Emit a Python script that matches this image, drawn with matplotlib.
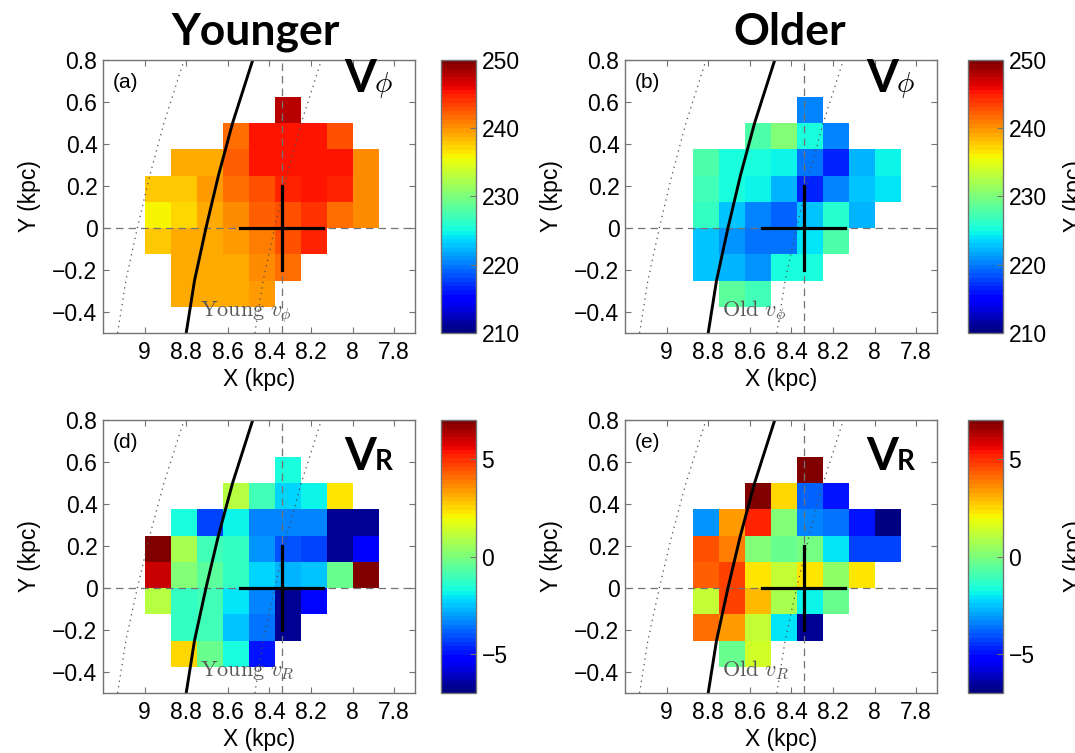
import numpy as np
import matplotlib
matplotlib.use('Agg')
import matplotlib.pyplot as plt

plt.rcParams['font.family'] = 'Liberation Sans'
plt.rcParams['mathtext.fontset'] = 'cm'
plt.rcParams['axes.unicode_minus'] = True

nan = np.nan

# bin edges in kpc (rows listed from top to bottom)
x_edges = [9.0, 8.875, 8.75, 8.625, 8.5, 8.375, 8.25, 8.125, 8.0, 7.875]
y_edges = [0.625, 0.5, 0.375, 0.25, 0.125, 0.0, -0.125, -0.25, -0.375]

# mean v_phi (km/s), young stars
vphi_young = [
    [nan, nan, nan, nan, nan, 248.0, nan, nan, nan],
    [nan, nan, nan, 241.5, 245.0, 245.5, 245.0, 242.5, nan],
    [nan, 239.3, 239.3, 242.0, 245.0, 245.5, 245.0, 245.0, 240.0],
    [237.5, 237.5, 239.8, 241.5, 243.0, 244.5, 245.0, 244.5, 240.2],
    [235.8, 237.3, 239.0, 240.2, 242.0, 243.0, 244.0, 241.5, 240.2],
    [237.5, 238.8, 239.3, 239.8, 241.0, 242.5, 244.5, nan, nan],
    [nan, 239.3, 239.3, 239.3, 240.5, 241.5, nan, nan, nan],
    [nan, 239.3, 239.3, 239.3, 239.8, nan, nan, nan, nan],
]

# mean v_phi (km/s), old stars
vphi_old = [
    [nan, nan, nan, nan, nan, 220.5, nan, nan, nan],
    [nan, nan, nan, 227.5, 230.5, 225.5, 220.5, nan, nan],
    [nan, 228.0, 225.0, 225.0, 224.5, 219.5, 216.5, 222.0, 224.5],
    [nan, 227.0, 225.0, 224.5, 222.0, 216.5, 220.0, 223.0, 224.0],
    [nan, 226.5, 222.5, 220.0, 219.0, 223.0, 226.0, 222.0, nan],
    [nan, 223.0, 221.0, 219.5, 219.5, 224.0, 227.5, nan, nan],
    [nan, 222.5, 222.0, 221.0, 225.5, 225.0, nan, nan, nan],
    [nan, nan, 228.5, 227.0, nan, nan, nan, nan, nan],
]

# mean v_R (km/s), young stars
vr_young = [
    [nan, nan, nan, nan, nan, -1.7, nan, nan, nan],
    [nan, nan, nan, 1.0, -1.0, -2.4, -1.9, 2.2, nan],
    [nan, -1.6, -4.2, -1.8, -3.3, -3.3, -3.5, -6.7, -6.6],
    [7.0, 0.7, -0.9, -1.2, -3.1, -4.0, -4.2, -6.7, -5.3],
    [6.1, 0.0, -0.6, -1.3, -2.4, -2.8, -2.6, -0.3, 7.0],
    [1.0, -1.1, -1.0, -2.0, -3.5, -6.6, -5.1, nan, nan],
    [nan, -1.1, -0.9, -2.6, -3.6, -6.6, nan, nan, nan],
    [nan, 2.6, -0.3, -1.75, -5.0, nan, nan, nan, nan],
]

# mean v_R (km/s), old stars
vr_old = [
    [nan, nan, nan, nan, nan, 7.0, nan, nan, nan],
    [nan, nan, nan, 6.8, 2.6, -3.9, -5.0, nan, nan],
    [nan, -3.1, 3.3, 5.2, 0.0, -3.3, -3.7, -5.0, -6.8],
    [nan, 4.5, 3.9, 0.0, -0.4, -0.2, -2.0, -4.2, -4.2],
    [nan, 4.3, 4.7, 2.2, 1.2, 2.3, 0.3, 2.4, nan],
    [nan, 1.3, 4.8, 3.0, 0.8, -1.9, -0.4, nan, nan],
    [nan, 4.0, 3.3, 1.3, -2.1, -6.7, nan, nan, nan],
    [nan, nan, -0.3, 1.5, nan, nan, nan, nan, nan],
]

# Sun position and Local arm track
R0 = 8.34
cross_half = 0.2
arm_y = np.array([-0.5, -0.25, 0.0, 0.25, 0.5, 0.8])
arm_x = np.array([8.80, 8.76, 8.705, 8.645, 8.577, 8.48])
arm_half_width = 0.33

x_ticks = [9, 8.8, 8.6, 8.4, 8.2, 8, 7.8]
y_ticks = [-0.4, -0.2, 0, 0.2, 0.4, 0.6, 0.8]

cmap = plt.get_cmap('jet', 64)
frame = '0.45'
fs = 16.5

W, H = 1075, 753
fig = plt.figure(figsize=(W / 100, H / 100), dpi=100)


def px_axes(left, top, right, bottom):
    return fig.add_axes([left / W, 1 - bottom / H, (right - left) / W, (bottom - top) / H])


def fmt(t):
    return '%g' % t if t >= 0 else '\u2212%g' % -t


def panel(ax, cax, vals, vmin, vmax, cticks, tag, sub, note):
    mesh = ax.pcolormesh(x_edges, y_edges, np.array(vals), cmap=cmap,
                         vmin=vmin, vmax=vmax)
    ax.axhline(0, color=frame, lw=0.9, ls=(0, (6, 4)))
    ax.axvline(R0, color=frame, lw=0.9, ls=(0, (6, 4)))
    ax.plot(arm_x, arm_y, color='k', lw=2.1)
    ax.plot(arm_x + arm_half_width, arm_y, color='0.3', lw=0.9, ls=(0, (1, 3.5)))
    ax.plot(arm_x - arm_half_width, arm_y, color='0.3', lw=0.9, ls=(0, (1, 3.5)))
    ax.plot([R0 - cross_half, R0 + cross_half], [0, 0], color='k', lw=2.3)
    ax.plot([R0, R0], [-cross_half, cross_half], color='k', lw=2.3)

    ax.set_xlim(9.2, 7.7)
    ax.set_ylim(-0.5, 0.8)
    ax.set_xticks(x_ticks)
    ax.set_xticklabels(['%g' % t for t in x_ticks])
    ax.set_yticks(y_ticks)
    ax.set_yticklabels([fmt(t) for t in y_ticks])
    ax.tick_params(direction='in', top=True, right=True, length=4, width=0.8,
                   color=frame, labelsize=fs, pad=4)
    ax.tick_params(axis='x', pad=6)
    for s in ax.spines.values():
        s.set_color(frame)
        s.set_linewidth(1)

    ax.text(-0.234, 0.5, 'Y (kpc)', transform=ax.transAxes, rotation=90,
            ha='center', va='center', fontsize=fs)
    ax.text(0.5, -0.172, 'X (kpc)', transform=ax.transAxes,
            ha='center', va='center', fontsize=fs)
    ax.text(0.03, 0.919, tag, transform=ax.transAxes, ha='left', va='center',
            fontsize=15)

    yb = 0.883 if sub == 'phi' else 0.817
    ax.text(0.772, yb, 'V', transform=ax.transAxes, family='Lato',
            weight='bold', fontsize=33, va='baseline')
    if sub == 'phi':
        ax.text(0.868, yb, r'$\phi$', transform=ax.transAxes, fontsize=21,
                va='baseline')
    else:
        ax.text(0.872, yb, 'R', transform=ax.transAxes, family='Lato',
                weight='bold', fontsize=20, va='baseline')
    ax.text(0.311, 0.062, note, transform=ax.transAxes, fontsize=16,
            color='0.35', va='baseline')

    cb = fig.colorbar(mesh, cax=cax, ticks=cticks)
    cb.ax.set_yticklabels([fmt(t) for t in cticks])
    cb.ax.tick_params(direction='in', length=4, color=frame, labelsize=fs, pad=4)
    cb.outline.set_edgecolor(frame)
    cb.outline.set_linewidth(1)


ax_a = px_axes(103, 60, 415, 333)
ax_b = px_axes(625, 60, 937, 333)
ax_d = px_axes(103, 420, 415, 693)
ax_e = px_axes(625, 420, 937, 693)
cax_a = px_axes(441, 60, 476, 333)
cax_b = px_axes(968, 60, 1003, 333)
cax_d = px_axes(441, 420, 476, 693)
cax_e = px_axes(968, 420, 1003, 693)

phi_ticks = [210, 220, 230, 240, 250]
vr_ticks = [-5, 0, 5]

panel(ax_a, cax_a, vphi_young, 210, 250, phi_ticks, '(a)', 'phi',
      r'$\mathrm{Young}\ v_\phi$')
panel(ax_b, cax_b, vphi_old, 210, 250, phi_ticks, '(b)', 'phi',
      r'$\mathrm{Old}\ v_\phi$')
panel(ax_d, cax_d, vr_young, -7, 7, vr_ticks, '(d)', 'R',
      r'$\mathrm{Young}\ v_R$')
panel(ax_e, cax_e, vr_old, -7, 7, vr_ticks, '(e)', 'R',
      r'$\mathrm{Old}\ v_R$')

fig.text(255.5 / W, 1 - 45 / H, 'Younger', ha='center', va='baseline',
         family='Lato', weight='bold', fontsize=32)
fig.text(789.5 / W, 1 - 45 / H, 'Older', ha='center', va='baseline',
         family='Lato', weight='bold', fontsize=32)

# y labels of the next column of panels, cut by the figure edge
fig.text(1074 / W, 1 - 196.5 / H, 'Y (kpc)', rotation=90, ha='center',
         va='center', fontsize=fs)
fig.text(1074 / W, 1 - 556.5 / H, 'Y (kpc)', rotation=90, ha='center',
         va='center', fontsize=fs)

fig.savefig('out.png', dpi=100)
